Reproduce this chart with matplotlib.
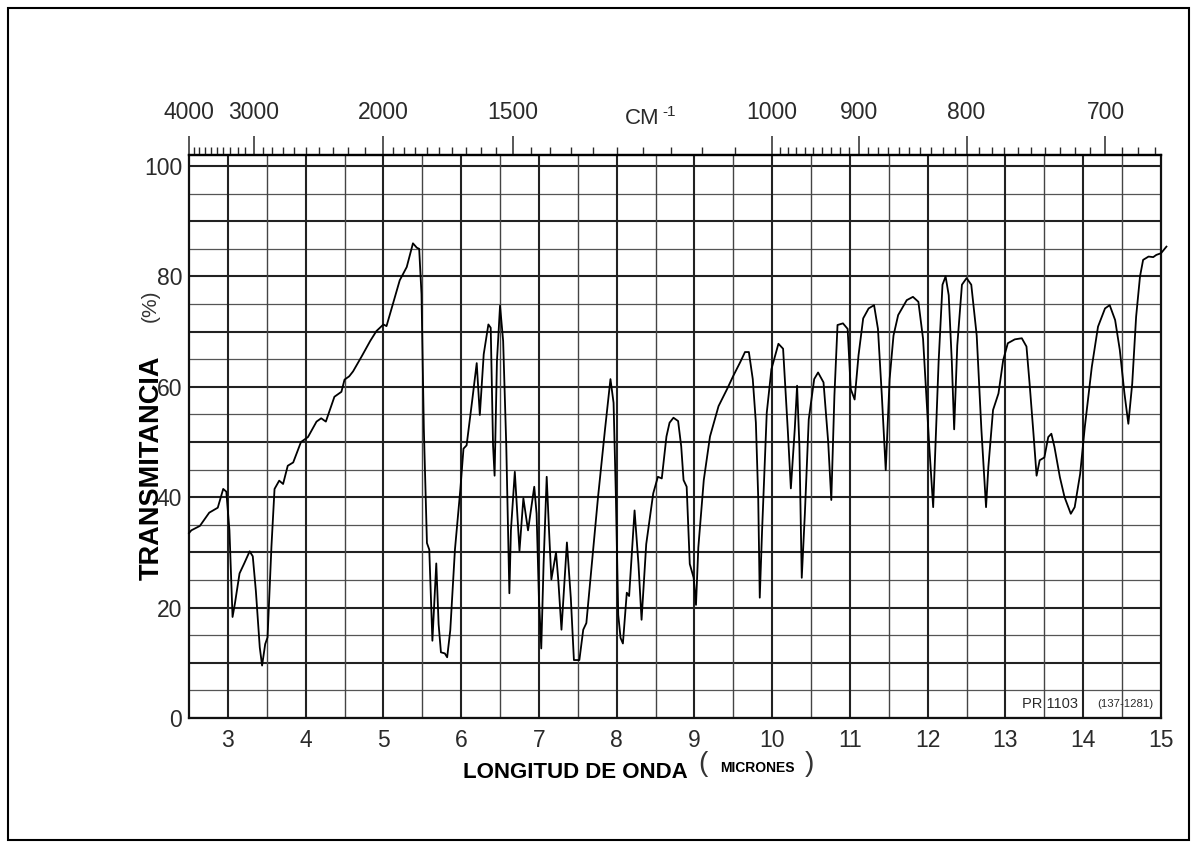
import numpy as np
import matplotlib
matplotlib.use("Agg")
import matplotlib.pyplot as plt
from matplotlib.patches import Rectangle

wavelength_um = [
    2.50, 2.53, 2.64, 2.76, 2.87, 2.94, 2.98, 3.02, 3.06, 3.09, 3.15, 3.21, 3.28, 3.32,
    3.36, 3.41, 3.44, 3.48, 3.51, 3.56, 3.60, 3.66, 3.71, 3.77, 3.84, 3.94, 4.03, 4.14,
    4.20, 4.26, 4.37, 4.46, 4.50, 4.56, 4.61, 4.72, 4.83, 4.91, 5.00, 5.04, 5.11, 5.21,
    5.30, 5.38, 5.43, 5.46, 5.49, 5.52, 5.56, 5.59, 5.63, 5.68, 5.71, 5.74, 5.79, 5.82,
    5.86, 5.92, 5.99, 6.03, 6.07, 6.14, 6.20, 6.24, 6.29, 6.35, 6.38, 6.41, 6.43, 6.46,
    6.50, 6.54, 6.58, 6.62, 6.64, 6.69, 6.75, 6.80, 6.86, 6.94, 6.97, 7.00, 7.03, 7.06,
    7.10, 7.13, 7.16, 7.22, 7.25, 7.29, 7.36, 7.41, 7.45, 7.52, 7.57, 7.61, 7.68, 7.76,
    7.85, 7.92, 7.96, 7.99, 8.02, 8.05, 8.08, 8.13, 8.16, 8.23, 8.28, 8.32, 8.38, 8.47,
    8.53, 8.58, 8.64, 8.68, 8.73, 8.79, 8.83, 8.86, 8.90, 8.94, 8.99, 9.02, 9.05, 9.12,
    9.20, 9.31, 9.42, 9.50, 9.59, 9.65, 9.70, 9.75, 9.79, 9.82, 9.84, 9.87, 9.93, 9.99,
    10.08, 10.14, 10.20, 10.24, 10.29, 10.32, 10.35, 10.38, 10.42, 10.47, 10.54, 10.59,
    10.66, 10.72, 10.76, 10.80, 10.84, 10.91, 10.97, 11.01, 11.06, 11.11, 11.17, 11.24,
    11.31, 11.36, 11.41, 11.46, 11.51, 11.56, 11.62, 11.73, 11.81, 11.88, 11.94, 12.02,
    12.07, 12.14, 12.19, 12.23, 12.27, 12.31, 12.34, 12.38, 12.44, 12.50, 12.56, 12.63,
    12.69, 12.75, 12.78, 12.84, 12.91, 12.97, 13.03, 13.12, 13.21, 13.27, 13.31, 13.36,
    13.40, 13.44, 13.50, 13.55, 13.59, 13.63, 13.70, 13.76, 13.84, 13.89, 13.96, 14.02,
    14.11, 14.19, 14.28, 14.34, 14.41, 14.47, 14.53, 14.58, 14.63, 14.68, 14.73, 14.77,
    14.84, 14.90, 14.94, 15.00, 15.07,
]
transmittance = [
    33.5, 34.0, 34.8, 37.2, 38.1, 41.5, 41.0, 34.0, 18.3, 20.7, 26.2, 28.0, 30.2, 29.3,
    23.0, 12.8, 9.5, 13.4, 14.6, 31.0, 41.5, 43.0, 42.4, 45.7, 46.3, 50.0, 50.9, 53.7,
    54.3, 53.7, 58.2, 59.1, 61.3, 61.9, 62.8, 65.5, 68.3, 70.1, 71.3, 71.0, 74.4, 79.3,
    81.7, 86.0, 85.2, 85.0, 76.8, 52.4, 31.7, 30.5, 14.0, 28.0, 17.0, 11.9, 11.7, 11.0,
    15.9, 30.5, 41.5, 48.8, 49.4, 57.3, 64.3, 54.9, 65.9, 71.3, 70.7, 49.4, 43.9, 64.6,
    74.7, 68.3, 49.4, 22.6, 34.0, 44.6, 30.3, 39.8, 34.0, 41.9, 37.0, 21.8, 12.6, 27.9,
    43.7, 34.0, 25.1, 30.0, 24.8, 16.0, 31.8, 21.8, 10.5, 10.5, 16.0, 17.2, 27.9, 40.0,
    52.3, 61.4, 57.1, 40.0, 18.7, 14.5, 13.5, 22.7, 22.1, 37.6, 27.9, 17.8, 31.5, 40.7,
    43.7, 43.4, 51.0, 53.5, 54.4, 53.8, 49.2, 43.1, 41.9, 27.9, 25.4, 20.5, 30.9, 43.1,
    51.0, 56.5, 59.6, 62.0, 64.5, 66.3, 66.3, 61.4, 53.5, 40.0, 21.8, 34.0, 55.3, 63.2,
    67.8, 66.9, 52.3, 41.6, 52.3, 60.2, 49.2, 25.4, 37.0, 54.1, 61.4, 62.6,
    60.8, 50.0, 39.5, 58.4, 71.2, 71.5, 70.5, 59.6, 57.7, 65.7, 72.4, 74.2,
    74.8, 70.5, 58.4, 44.9, 61.4, 69.3, 73.0, 75.7, 76.3, 75.4, 68.7, 49.2,
    38.2, 64.5, 78.5, 80.0, 76.6, 64.5, 52.3, 67.5, 78.5, 79.7, 78.5, 69.3,
    52.3, 38.2, 45.5, 55.8, 58.8, 64.8, 67.9, 68.6, 68.8, 67.3, 60.6, 51.5,
    43.9, 46.7, 47.2, 50.9, 51.5, 49.1, 43.6, 40.0, 37.0, 38.2, 44.2, 52.7,
    63.6, 70.9, 74.2, 74.8, 72.1, 66.7, 58.8, 53.3, 60.6, 72.7, 80.0, 83.0,
    83.6, 83.5, 83.9, 84.2, 85.4,
]

micron_ticks = [3, 4, 5, 6, 7, 8, 9, 10, 11, 12, 13, 14, 15]
percent_ticks = [0, 20, 40, 60, 80, 100]
wn_labels = [4000, 3000, 2000, 1500, 1000, 900, 800, 700]
wn_minor = (list(range(3900, 2000, -100)) + list(range(1950, 1000, -50))
            + list(range(990, 660, -10)))

font = ["Liberation Sans", "DejaVu Sans"]

W, H = 1197, 848
fig = plt.figure(figsize=(W / 100, H / 100), dpi=100)
ax = fig.add_axes([189 / W, 1 - 718 / H, (1161 - 189) / W, (718 - 155) / H])
ax.set_xlim(2.5, 15)
ax.set_ylim(0, 102)

# chart paper grid
for v in np.arange(0, 101, 5):
    major = v % 10 == 0
    ax.axhline(v, color="#222222" if major else "#555555",
               lw=1.5 if major else 0.9, zorder=1)
for v in np.arange(3, 15, 0.5):
    major = v % 1 == 0
    ax.axvline(v, color="#222222" if major else "#444444",
               lw=1.5 if major else 1.0, zorder=1)

ax.plot(wavelength_um, transmittance, color="black", lw=1.3, zorder=3, clip_on=False)

for s in ax.spines.values():
    s.set_linewidth(1.6)
    s.set_color("#111111")

ax.set_xticks(micron_ticks)
ax.set_xticklabels([str(t) for t in micron_ticks])
ax.set_yticks(percent_ticks)
ax.set_yticklabels([str(t) for t in percent_ticks])
ax.tick_params(axis="both", length=0, labelsize=16.5, colors="#2a2a2a")
ax.tick_params(axis="x", pad=8)
ax.tick_params(axis="y", pad=5)
for lab in ax.get_xticklabels() + ax.get_yticklabels():
    lab.set_family(font)

# wavenumber scale on top
ax_top = ax.twiny()
ax_top.set_xlim(ax.get_xlim())
ax_top.set_xticks([1e4 / w for w in wn_labels])
ax_top.set_xticklabels([str(w) for w in wn_labels])
ax_top.set_xticks([1e4 / w for w in wn_minor], minor=True)
ax_top.tick_params(axis="x", which="major", direction="out", length=14, width=1.1,
                   pad=8, labelsize=16.5, colors="#2a2a2a")
ax_top.tick_params(axis="x", which="minor", direction="out", length=6, width=1.0,
                   colors="#2a2a2a")
for lab in ax_top.get_xticklabels():
    lab.set_family(font)
for s in ["left", "right", "bottom"]:
    ax_top.spines[s].set_visible(False)
ax_top.spines["top"].set_linewidth(1.6)

fig.text(660 / W, 1 - 118 / H, "CM", ha="right", va="center", fontsize=16,
         family=font, color="#2a2a2a")
fig.text(662 / W, 1 - 112 / H, "-1", ha="left", va="center", fontsize=11,
         family=font, color="#2a2a2a")

# chart codes
ax.text(13.57, 2.6, "PR 1103", ha="center", va="center", fontsize=10.5,
        family=font, color="#2a2a2a", zorder=4)
ax.text(14.54, 2.6, "(137-1281)", ha="center", va="center", fontsize=8.2,
        family=font, color="#2a2a2a", zorder=4)

# axis titles
fig.text(152 / W, 1 - 468 / H, "TRANSMITANCIA", rotation=90, ha="center", va="center",
         fontsize=19.5, fontweight="bold", family=font)
fig.text(150 / W, 1 - 306 / H, "(%)", rotation=90, ha="center", va="center",
         fontsize=15, family=font, color="#333333")
fig.text(463 / W, 1 - 772 / H, "LONGITUD DE ONDA", ha="left", va="center",
         fontsize=16, fontweight="bold", family=font)
fig.text(703 / W, 1 - 764 / H, "(", ha="center", va="center", fontsize=20,
         family=font, color="#333333")
fig.text(757 / W, 1 - 768 / H, "MICRONES", ha="center", va="center", fontsize=10,
         fontweight="bold", family=font)
fig.text(809 / W, 1 - 764 / H, ")", ha="center", va="center", fontsize=20,
         family=font, color="#333333")

# page frame
fig.add_artist(Rectangle((8 / W, 8 / H), (1189 - 8) / W, (840 - 8) / H,
                         transform=fig.transFigure, fill=False, lw=1.5, ec="black"))

fig.savefig("out.png", dpi=100, facecolor="white")
